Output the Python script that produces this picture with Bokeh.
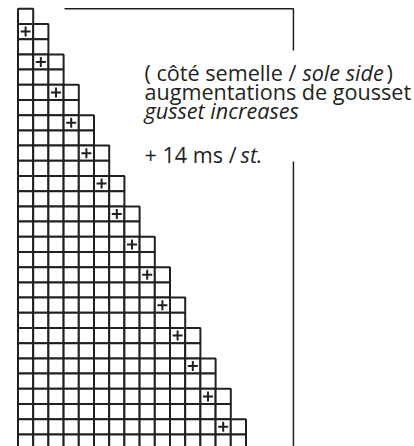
from bokeh.plotting import figure
from bokeh.models import Range1d, Label
from bokeh.embed import file_html
from bokeh.resources import INLINE

# ---- chart data ----
row_cells = [1, 2, 2, 3, 3, 4, 4, 5, 5, 6, 6, 7, 7, 8, 8, 9, 9, 10, 10,
             11, 11, 12, 12, 13, 13, 14, 14, 15, 15]
plus_rows = [1, 3, 5, 7, 9, 11, 13, 15, 17, 19, 21, 23, 25, 27]
plus_cols = [0, 1, 2, 3, 4, 5, 6, 7, 8, 9, 10, 11, 12, 13]
line1_a = "( côté semelle /"
line1_b = "sole side"
line1_c = ")"
line2 = "augmentations de gousset"
line3 = "gusset increases"
line4_a = "+ 14 ms /"
line4_b = "st."

INK = "#231f20"
W, H = 414, 446
CELL = 15.2
GX, GY = 17.5, 8.3   # grid top-left inside the figure (px)

p = figure(width=W, height=H, output_backend="svg", toolbar_location=None,
           x_range=Range1d(-GX / CELL, (W - GX) / CELL),
           y_range=Range1d(-(H - GY) / CELL, GY / CELL),
           x_axis_location=None, y_axis_location=None,
           min_border=0, outline_line_color=None,
           background_fill_color="white", border_fill_color="white")
p.grid.visible = False

cx, cy = [], []
for r, n in enumerate(row_cells):
    for c in range(n):
        cx.append(c + 0.5)
        cy.append(-(r + 0.5))
p.rect(x=cx, y=cy, width=1, height=1, fill_color="white",
       line_color=INK, line_width=2)

p.scatter(x=[c + 0.5 for c in plus_cols], y=[-(r + 0.5) for r in plus_rows],
          marker="cross", size=10, line_width=2, line_color=INK)

# bracket
bx0, bx1 = 3.06, 18.12
p.line(x=[bx0, bx1, bx1], y=[0.0, 0.0, -2.74], line_color=INK, line_width=1.5)
p.line(x=[bx1, bx1], y=[-10.05, -30], line_color=INK, line_width=1.5)

FS = 21.6
def lab(txt, px, py, italic=False):
    p.add_layout(Label(x=px, y=H - py, x_units="screen", y_units="screen",
                       text=txt, text_font="Open Sans", text_font_size=f"{FS}px",
                       text_font_style="italic" if italic else "normal",
                       text_color=INK, text_baseline="alphabetic", text_align="left"))

TX = 144
lab(line1_a, TX, 72)
lab(line1_b, TX + 7.31 * FS, 72, italic=True)
lab(line1_c, TX + 11.2 * FS, 72)
lab(line2, TX, 91)
lab(line3, TX, 110, italic=True)
lab(line4_a, TX, 154)
lab(line4_b, TX + 4.45 * FS, 154, italic=True)

open("out.html", "w").write(file_html(p, INLINE))
